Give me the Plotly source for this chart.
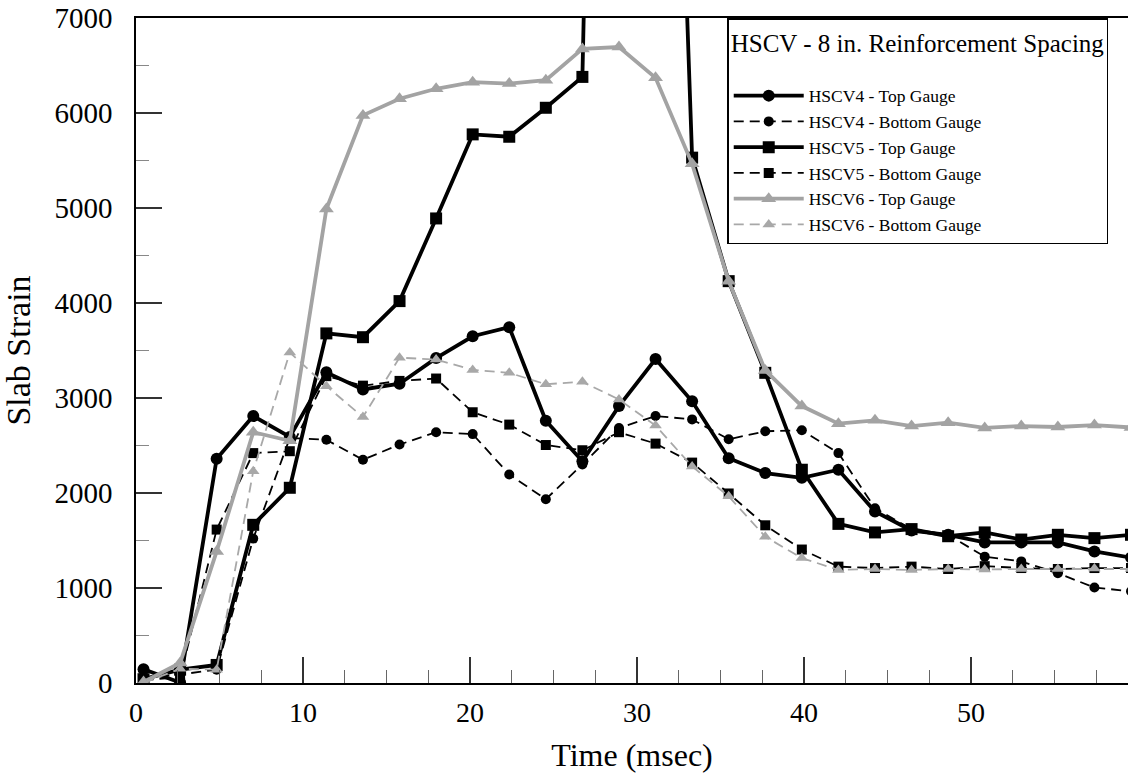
import plotly.graph_objects as go

# Time (msec) of each sample
time_ms = [0.45, 2.64, 4.83, 7.02, 9.21, 11.40, 13.59, 15.78, 17.97, 20.16,
           22.35, 24.54, 26.73, 28.92, 31.11, 33.30, 35.49, 37.68, 39.87, 42.06,
           44.25, 46.44, 48.63, 50.82, 53.01, 55.20, 57.39, 59.58]

hscv4_top = [145, 5, 2360, 2810, 2590, 3270, 3090, 3150, 3420, 3650,
             3745, 2760, 2335, 2915, 3410, 2965, 2365, 2210, 2160, 2245,
             1805, 1605, 1560, 1480, 1480, 1480, 1385, 1320]
hscv4_bottom = [50, 90, 140, 1520, 2580, 2560, 2350, 2510, 2640, 2620,
                2195, 1935, 2300, 2685, 2810, 2775, 2565, 2650, 2660, 2420,
                1840, 1620, 1560, 1330, 1280, 1155, 1005, 965]
hscv5_top = [40, 140, 190, 1665, 2055, 3680, 3640, 4020, 4890, 5775,
             5750, 6055, 6380, 24000, 16500, 5530, 4230, 3265, 2245, 1675,
             1585, 1620, 1545, 1585, 1510, 1560, 1525, 1560]
hscv5_bottom = [30, 60, 1615, 2420, 2440, 3230, 3130, 3180, 3205, 2850,
                2720, 2505, 2450, 2640, 2520, 2320, 1995, 1660, 1405, 1225,
                1210, 1225, 1200, 1230, 1210, 1200, 1210, 1210]
hscv6_top = [10, 210, 1385, 2640, 2550, 4990, 5975, 6150, 6255, 6325,
             6310, 6345, 6675, 6695, 6370, 5465, 4230, 3290, 2915, 2730,
             2765, 2705, 2740, 2685, 2705, 2695, 2715, 2690]
hscv6_bottom = [0, 150, 140, 2230, 3480, 3125, 2800, 3425, 3405, 3295,
                3265, 3145, 3170, 2985, 2710, 2280, 1965, 1540, 1315, 1190,
                1200, 1190, 1200, 1195, 1200, 1200, 1205, 1200]

series = [
    ("HSCV4 - Top Gauge", hscv4_top, "black", "solid", 3.8, "circle", 12),
    ("HSCV4 - Bottom Gauge", hscv4_bottom, "black", "10px,6px", 1.8, "circle", 10),
    ("HSCV5 - Top Gauge", hscv5_top, "black", "solid", 3.8, "square", 12),
    ("HSCV5 - Bottom Gauge", hscv5_bottom, "black", "10px,6px", 1.8, "square", 10),
    ("HSCV6 - Top Gauge", hscv6_top, "#a3a3a3", "solid", 3.8, "triangle-up", 13),
    ("HSCV6 - Bottom Gauge", hscv6_bottom, "#a8a8a8", "10px,6px", 1.8, "triangle-up", 11),
]

fig = go.Figure()
# blank legend row: gives the legend title the same breathing room as the original
fig.add_trace(go.Scatter(
    x=[None], y=[None], name=" ", mode="lines", legendgroup="_spacer",
    line=dict(color="rgba(0,0,0,0)", width=0), hoverinfo="skip",
))
for name, vals, color, dash, width, symbol, msize in series:
    fig.add_trace(go.Scatter(
        x=time_ms, y=vals, name=name, mode="lines+markers",
        legendgroup=name,
        line=dict(color=color, dash=dash, width=width),
        marker=dict(symbol=symbol, size=msize, color=color),
    ))

serif = "Liberation Serif"
fig.update_layout(
    width=1128, height=783,
    margin=dict(l=136, r=0, t=18, b=100),
    paper_bgcolor="white", plot_bgcolor="white",
    font=dict(family=serif, color="black", size=22),
    showlegend=True,
    legend=dict(
        x=0.596, y=1, xanchor="left", yanchor="top",
        bgcolor="white", bordercolor="black", borderwidth=1.5,
        font=dict(family=serif, size=17.5, color="black"),
        title=dict(text="HSCV - 8 in. Reinforcement Spacing",
                   font=dict(family=serif, size=25, color="black")),
        itemwidth=70, traceorder="grouped", tracegroupgap=0,
    ),
)
fig.update_xaxes(
    range=[0, 59.4], dtick=10, tick0=0,
    showline=True, linecolor="black", linewidth=1.5, mirror=True,
    ticks="inside", ticklen=26, tickwidth=1.5, tickcolor="#333333",
    minor=dict(dtick=2.5, ticks="inside", ticklen=13, tickwidth=1.2, tickcolor="#666666"),
    showgrid=False, zeroline=False,
    tickfont=dict(family=serif, size=28, color="black"),
    ticklabelstandoff=4,
    title=dict(text="Time (msec)", font=dict(family=serif, size=32, color="black"), standoff=16),
)
fig.update_yaxes(
    range=[0, 7000], dtick=1000, tick0=0,
    showline=True, linecolor="black", linewidth=1.5, mirror=False,
    ticks="inside", ticklen=26, tickwidth=1.5, tickcolor="#333333",
    minor=dict(dtick=500, ticks="inside", ticklen=13, tickwidth=1.2, tickcolor="#888888"),
    showgrid=False, zeroline=False,
    tickfont=dict(family=serif, size=29, color="black"),
    ticklabelstandoff=16,
    title=dict(text="Slab Strain", font=dict(family=serif, size=34, color="black"), standoff=16),
)

fig.write_html("out.html")
